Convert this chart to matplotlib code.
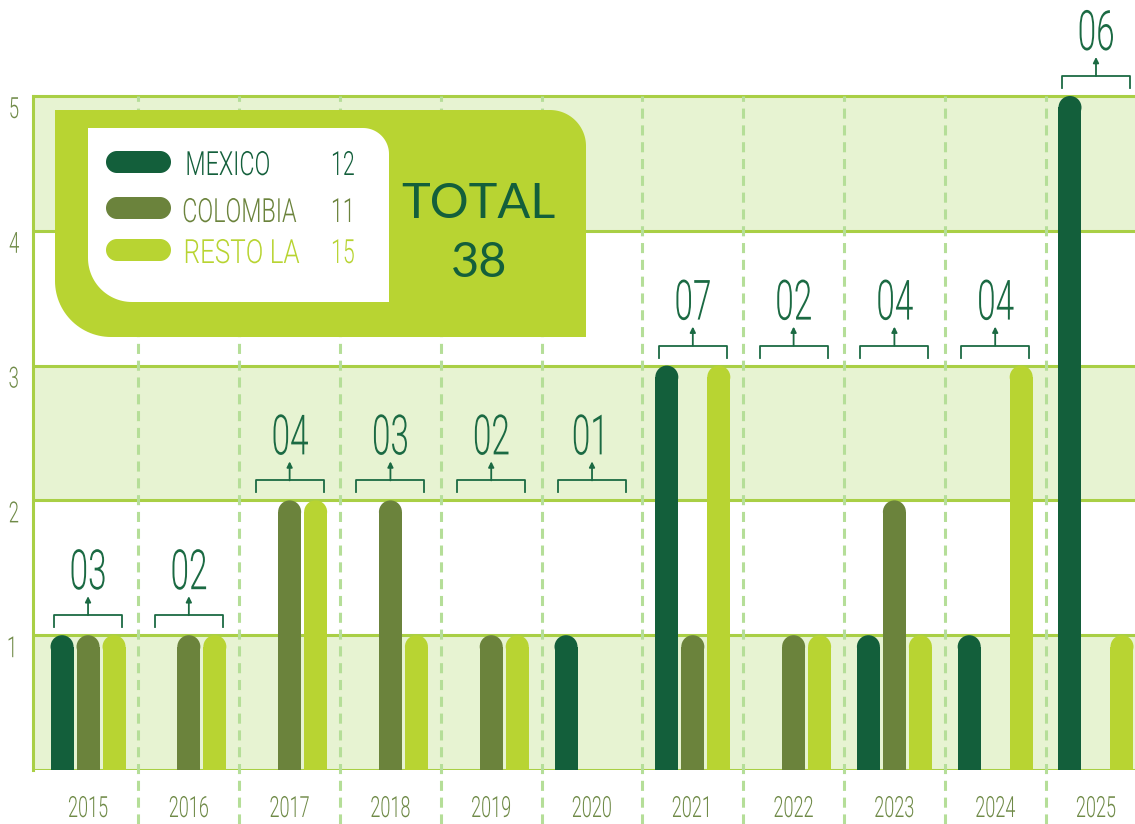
import numpy as np
import matplotlib
matplotlib.use("Agg")
import matplotlib.pyplot as plt
from matplotlib.patches import Ellipse, PathPatch
from matplotlib.path import Path
from matplotlib.patheffects import AbstractPathEffect
from matplotlib.transforms import Affine2D

# data
years = ["2015", "2016", "2017", "2018", "2019", "2020",
         "2021", "2022", "2023", "2024", "2025"]
mexico = [1, 0, 0, 0, 0, 1, 3, 0, 1, 1, 5]
colombia = [1, 1, 2, 2, 1, 0, 1, 1, 2, 0, 0]
resto = [1, 1, 2, 1, 1, 0, 3, 1, 1, 3, 1]
series_names = ["MEXICO", "COLOMBIA", "RESTO LA"]
y_ticks = [1, 2, 3, 4, 5]

# colours
DARK = "#135f3b"
OLIVE = "#6b833c"
LIME = "#b8d432"
BAND = "#e7f3d2"
GRID = "#a9cf45"
DASH = "#b5de98"
ANN = "#1b6a43"
LABEL = "#6f8a47"
colors = [DARK, OLIVE, LIME]

W, H = 1135, 824
COND = ["Roboto", "DejaVu Sans"]
WGT = 300


class Squeeze(AbstractPathEffect):
    """draw text horizontally compressed (condensed look)"""
    def __init__(self, sx=0.6, anchor=0.5):
        super().__init__()
        self.sx = sx
        self.anchor = anchor

    def draw_path(self, renderer, gc, tpath, affine, rgbFace=None):
        ext = tpath.get_extents()
        x0 = ext.x0 + self.anchor * ext.width
        t = Affine2D().translate(-x0, 0).scale(self.sx, 1).translate(x0, 0) + affine
        renderer.draw_path(gc, tpath, t, rgbFace)


def rounded(x0, y0, x1, y1, tl=0, tr=0, br=0, bl=0):
    # pixel coords, y pointing down
    pts = []
    for cx, cy, r, a0, a1 in [(x0 + tl, y0 + tl, tl, 180, 270),
                              (x1 - tr, y0 + tr, tr, 270, 360),
                              (x1 - br, y1 - br, br, 0, 90),
                              (x0 + bl, y1 - bl, bl, 90, 180)]:
        a = np.radians(np.linspace(a0, a1, 30))
        pts += list(zip(cx + r * np.cos(a), cy + r * np.sin(a)))
    pts.append(pts[0])
    return Path(pts, closed=True)


fig = plt.figure(figsize=(W / 100, H / 100), dpi=100)
ax = fig.add_axes([32 / W, 54 / H, (W - 32) / W, 770 / H])
XMIN, XMAX = -0.556, 10.387
YMAX = 5.712
ax.set_xlim(XMIN, XMAX)
ax.set_ylim(0, YMAX)
for s in ax.spines.values():
    s.set_visible(False)

xs_px = (W - 32) / (XMAX - XMIN)   # px per x unit
ys_px = 770 / YMAX                 # px per y unit

# bands and grid
for lo in [0, 2, 4]:
    ax.axhspan(lo, lo + 1, color=BAND, lw=0, zorder=0)
for v in range(0, 6):
    ax.axhline(v, color=GRID, lw=2.2, zorder=1)
ax.plot([XMIN + 0.01, XMIN + 0.01], [0, 5], color=GRID, lw=2.2, zorder=1, clip_on=False)

x = np.arange(len(years))
for i in range(len(years) - 1):
    ax.plot([i + 0.5, i + 0.5], [-0.4, 5], color=DASH, lw=2.2, ls=(0, (3.3, 2.2)),
            zorder=1.5, clip_on=False)

# bars with rounded tops
slot = 26 / xs_px
bar_w = 23 / xs_px
cap_h = bar_w * xs_px / ys_px
for k, (vals, col) in enumerate(zip([mexico, colombia, resto], colors)):
    vals = np.array(vals, dtype=float)
    xk = x + (k - 1) * slot
    heights = np.where(vals > 0, vals - cap_h / 2, 0)
    ax.bar(xk, heights, width=bar_w, color=col, lw=0, zorder=3)
    for xi, v in zip(xk, vals):
        if v > 0:
            ax.add_patch(Ellipse((xi, v - cap_h / 2), bar_w, cap_h, color=col, lw=0, zorder=3))

# totals with brackets
totals = np.array(mexico) + np.array(colombia) + np.array(resto)
group_max = np.max([mexico, colombia, resto], axis=0)
levels = np.maximum.accumulate(group_max)
half = 34 / xs_px
for i, (lvl, tot) in enumerate(zip(levels, totals)):
    y_leg = lvl + 8 / ys_px
    y_h = lvl + 20 / ys_px
    y_tip = lvl + 39 / ys_px
    y_txt = lvl + 46 / ys_px
    ax.plot([i - half, i - half, i + half, i + half], [y_leg, y_h, y_h, y_leg],
            color=ANN, lw=1.3, zorder=4, clip_on=False)
    ax.annotate("", xy=(i, y_tip), xytext=(i, y_h), annotation_clip=False,
                arrowprops=dict(arrowstyle="-|>", color=ANN, lw=1.3,
                                mutation_scale=8, shrinkA=0, shrinkB=0))
    ax.text(i, y_txt, f"{tot:02d}", ha="center", va="baseline", fontsize=40,
            family=COND, fontweight=WGT, color=ANN, clip_on=False,
            path_effects=[Squeeze(0.6, 0.5)])

# axes labels
ax.set_xticks(x, years)
ax.tick_params(axis="x", length=0, pad=18, labelsize=21, labelcolor=LABEL)
for lab in ax.get_xticklabels():
    lab.set_family(COND)
    lab.set_fontweight(WGT)
    lab.set_path_effects([Squeeze(0.62, 0.5)])
ax.set_yticks(y_ticks, [str(v) for v in y_ticks])
ax.tick_params(axis="y", length=0, pad=9, labelsize=21, labelcolor=LABEL)
for lab in ax.get_yticklabels():
    lab.set_family(COND)
    lab.set_fontweight(WGT)
    lab.set_va("top")
    lab.set_path_effects([Squeeze(0.64, 1.0)])

# legend panel (figure pixel coords, y down)
pix = Affine2D().scale(1 / W, -1 / H).translate(0, 1) + fig.transFigure
fig.add_artist(PathPatch(rounded(55, 110, 586, 337, tr=36, bl=56), transform=pix,
                         facecolor=LIME, lw=0, zorder=5))
fig.add_artist(PathPatch(rounded(88, 128, 389, 302, tr=26, bl=44), transform=pix,
                         facecolor="white", lw=0, zorder=6))
counts = [sum(mexico), sum(colombia), sum(resto)]
pill_y = [162, 208, 250]
base_y = [175, 222, 263]
name_end = [271, 297, 300]
name_sx = [0.7, 0.7, 0.78]
for name, cnt, col, py, by, xe, sx in zip(series_names, counts, colors, pill_y,
                                         base_y, name_end, name_sx):
    fig.add_artist(PathPatch(rounded(106, py - 11, 171, py + 11, 11, 11, 11, 11),
                             transform=pix, facecolor=col, lw=0, zorder=7))
    fig.text(xe, by, name, transform=pix, ha="right", va="baseline", fontsize=24,
             family=COND, fontweight=WGT, color=col, zorder=8,
             path_effects=[Squeeze(sx, 1.0)])
    fig.text(330, by, str(cnt), transform=pix, ha="left", va="baseline", fontsize=24,
             family=COND, fontweight=WGT, color=col, zorder=8,
             path_effects=[Squeeze(0.64, 0.0)])

fig.text(478, 218, "TOTAL", transform=pix, ha="center", va="baseline", fontsize=35,
         family=["Lato", "DejaVu Sans"], color=DARK, zorder=8)
fig.text(479, 277, str(sum(counts)), transform=pix, ha="center", va="baseline", fontsize=35,
         family=["Lato", "DejaVu Sans"], color=DARK, zorder=8)

fig.savefig("out.png", dpi=100, facecolor="white")
